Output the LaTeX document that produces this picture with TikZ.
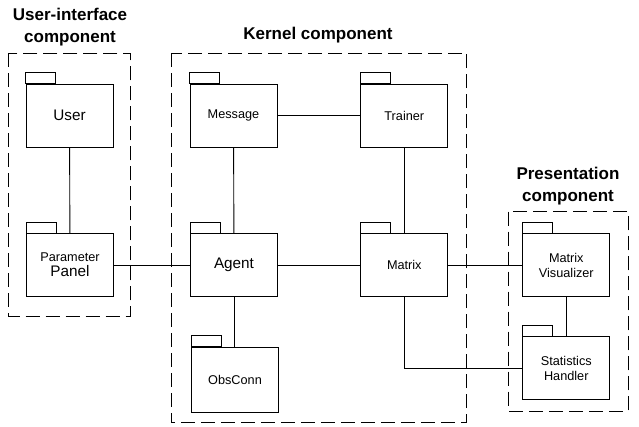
\documentclass[tikz,border=0pt]{standalone}
\usepackage{fontspec}
\setmainfont{Liberation Sans}
\usetikzlibrary{calc}
\newcommand{\largelbl}{\fontsize{15.3}{17}\selectfont}
\begin{document}
\begin{tikzpicture}[x=1pt,y=-1pt,line width=0.9pt,
  pkg/.style={draw,rectangle,minimum width=87pt,minimum height=63pt,inner sep=0pt,align=center,
    font=\fontsize{12.7}{15}\selectfont,
    append after command={\pgfextra{\draw[line width=0.9pt] (\tikzlastnode.north west) rectangle ++(30pt,11pt);}}},
  group/.style={draw,dash pattern=on 14pt off 6pt},
  title/.style={font=\fontsize{17}{22}\selectfont\bfseries,align=center}]
\useasboundingbox (0,0) rectangle (639,426);
% groups
\draw[group] (8.7,53) rectangle (130,316);
\draw[group] (171,53) rectangle (466.7,422.7);
\draw[group] (508.3,211.7) rectangle (628.3,411);
% titles
\node[title] (tUI) at (70,27) {User-interface\\component};
\node[title] (tK) at (318,35) {Kernel component};
\node[title] (tP) at (568,186) {Presentation\\component};
% packages
\node[pkg] (user) at (69.5,115.5) {\largelbl User};
\node[pkg] (msg) at (233.5,115.5) {Message};
\node[pkg] (trainer) at (404.3,115.5) {Trainer};
\node[pkg] (param) at (70,265) {Parameter\\{\largelbl Panel}};
\node[pkg] (agent) at (234,265) {\largelbl Agent};
\node[pkg] (matrix) at (404.3,265) {Matrix};
\node[pkg] (matvis) at (566.3,265) {Matrix\\Visualizer};
\node[pkg,minimum height=65pt] (obs) at (235,379.7) {ObsConn};
\node[pkg] (stats) at (566.3,368) {Statistics\\Handler};
% connectors
\draw (user) -- (param);
\draw (msg) -- (agent);
\draw (agent) -- (obs.north -| agent);
\draw (msg) -- (trainer);
\draw (trainer) -- (matrix);
\draw (param) -- (agent);
\draw (agent) -- (matrix);
\draw (matrix) -- (matvis);
\draw (matvis) -- (stats);
\draw (matrix.south) |- (stats.west);
\end{tikzpicture}
\end{document}
